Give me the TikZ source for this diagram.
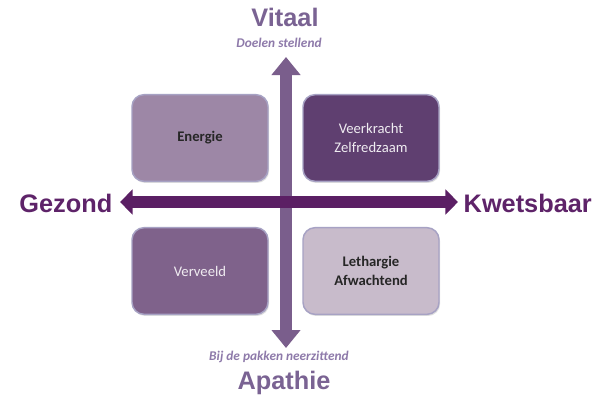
\documentclass[tikz,border=0pt]{standalone}
\usepackage{fontspec}
\setmainfont{Carlito}
\newfontfamily\headfont{Liberation Sans}
\usetikzlibrary{arrows.meta,shadows}

\definecolor{vaxis}{HTML}{7A5E8C}
\definecolor{haxis}{HTML}{5B1F64}
\definecolor{vlabel}{HTML}{7A6393}
\definecolor{hlabel}{HTML}{5E2369}
\definecolor{sublabel}{HTML}{8E7AAA}
\definecolor{boxedge}{HTML}{A7A2C4}
\definecolor{fillA}{HTML}{9D87A6}
\definecolor{fillB}{HTML}{5F3F70}
\definecolor{fillC}{HTML}{7F628B}
\definecolor{fillD}{HTML}{C8BBCB}

\tikzset{
  quad/.style={draw=boxedge, line width=1.1pt, rounded corners=9pt,
    minimum width=102pt, minimum height=65pt, align=center,
    font=\fontsize{11}{14}\selectfont,
    drop shadow={shadow xshift=0.8pt, shadow yshift=-1.2pt, opacity=0.25}},
  axislabel/.style={font=\headfont\bfseries\fontsize{19}{22}\selectfont},
  subtitle/.style={font=\bfseries\itshape\fontsize{10}{12}\selectfont, text=sublabel},
}

\begin{document}
\begin{tikzpicture}[x=0.75pt,y=-0.75pt]
  \useasboundingbox[fill=white] (0,0) rectangle (598,400);

  % axis end points
  \coordinate (vtop) at (286,57);
  \coordinate (vbot) at (286,348);
  \coordinate (hleft) at (120,202);
  \coordinate (hright) at (458,202);

  % vertical axis
  \draw[vaxis, line width=9pt,
        {Triangle[width=21pt,length=13.5pt]}-{Triangle[width=21pt,length=13.5pt]}]
        (vtop) -- (vbot);
  % horizontal axis
  \draw[haxis, line width=8.5pt,
        {Triangle[width=18.5pt,length=9.5pt]}-{Triangle[width=18.5pt,length=9.5pt]}]
        (hleft) -- (hright);

  % axis labels
  \node[axislabel, text=vlabel] (vitaal) at (285,17) {Vitaal};
  \node[subtitle] (doelen) at (279,43) {Doelen stellend};
  \node[axislabel, text=vlabel] (apathie) at (284,383) {Apathie};
  \node[subtitle] (bij) at (279,357) {Bij de pakken neerzittend};
  \node[axislabel, text=hlabel, anchor=east] (gezond) at (117,203) {Gezond};
  \node[axislabel, text=hlabel, anchor=west] (kwets) at (459,203) {Kwetsbaar};

  % quadrants
  \node[quad, fill=fillA, text=black!85] (energie) at (200,138) {\bfseries Energie};
  \node[quad, fill=fillB, text=white!90!fillB] (veer) at (371,138) {Veerkracht\\Zelfredzaam};
  \node[quad, fill=fillC, text=white!88!fillC] (verveeld) at (200,271) {Verveeld};
  \node[quad, fill=fillD, text=black!85] (leth) at (371,271) {\bfseries Lethargie\\\bfseries Afwachtend};
\end{tikzpicture}
\end{document}
